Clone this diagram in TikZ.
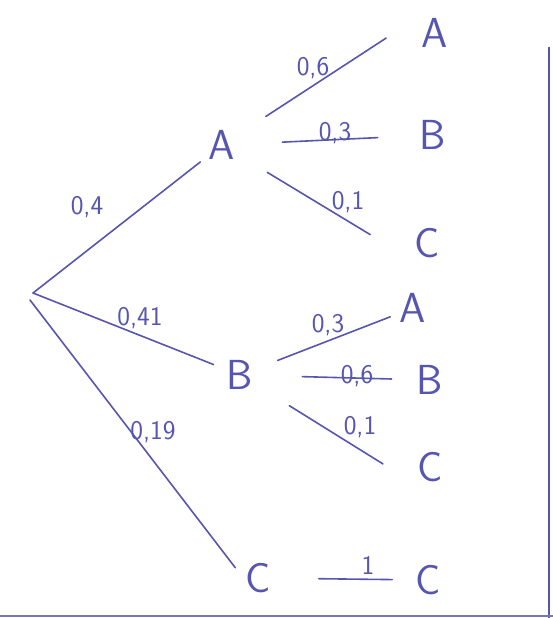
\documentclass[tikz,border=0pt]{standalone}
\usetikzlibrary{positioning,calc}
\definecolor{ink}{RGB}{86,86,176}
\definecolor{edge}{RGB}{120,120,170}
\tikzset{>=latex}
\tikzset{
  event/.style={text=ink, font=\sffamily\fontsize{42}{44}\selectfont, inner sep=2pt},
  prob/.style={text=ink, font=\sffamily\fontsize{27}{29}\selectfont, inner sep=0pt},
  branch/.style={draw=ink, line width=1.6pt, line cap=round},
}
\begin{document}
\begin{tikzpicture}[x=1pt,y=-1pt]
  \useasboundingbox (0,0) rectangle (553,618);
  % root and first level
  \coordinate (root) at (33,293);
  \coordinate (rootc) at (30,300);
  \node[event] (A) at (222,145) {A};
  \node[event] (B) at (240,375) {B};
  \node[event] (C) at (258,578) {C};
  % second level
  \node[event] (AA) at (435,33) {A};
  \node[event] (AB) at (433,135) {B};
  \node[event] (AC) at (427,243) {C};
  \node[event] (BA) at (413,308) {A};
  \node[event] (BB) at (430,380) {B};
  \node[event] (BC) at (430,467) {C};
  \node[event] (CC) at (428,580) {C};
  % branches
  \draw[branch, shorten >=8pt] (root) -- (A);
  \draw[branch, shorten >=12pt] (root) -- (B);
  \draw[branch, shorten >=13pt] (rootc) -- (C.west);
  \draw[branch, shorten <=34pt, shorten >=40pt] (A) -- (AA.north west);
  \draw[branch, shorten <=45pt, shorten >=40pt] (A) -- (AB);
  \draw[branch, shorten <=35pt, shorten >=49pt] (A) -- (AC.south west);
  \draw[branch, shorten <=24pt, shorten >=8pt] (B) -- (BA);
  \draw[branch, shorten <=47pt, shorten >=23pt] (B) -- (BB);
  \draw[branch, shorten <=40pt, shorten >=38pt] (B) -- (BC.south west);
  \draw[branch, shorten <=46pt, shorten >=21pt] (C) -- (CC);
  % probabilities
  \node[prob] (pA) at (87,207) {0,4};
  \node[prob] (pB) at (140,318) {0,41};
  \node[prob] (pC) at (153,432) {0,19};
  \node[prob] (pAA) at (313,68) {0,6};
  \node[prob] (pAB) at (335,133) {0,3};
  \node[prob] (pAC) at (348,202) {0,1};
  \node[prob] (pBA) at (328,325) {0,3};
  \node[prob] (pBB) at (357,376) {0,6};
  \node[prob] (pBC) at (360,427) {0,1};
  \node[prob] (pCC) at (368,565) {1};
  % page edges
  \draw[draw=ink, line width=2.5pt] (549,47) -- (549,618);
  \draw[draw=edge, line width=2pt] (0,616) -- (553,616);
\end{tikzpicture}
\end{document}
